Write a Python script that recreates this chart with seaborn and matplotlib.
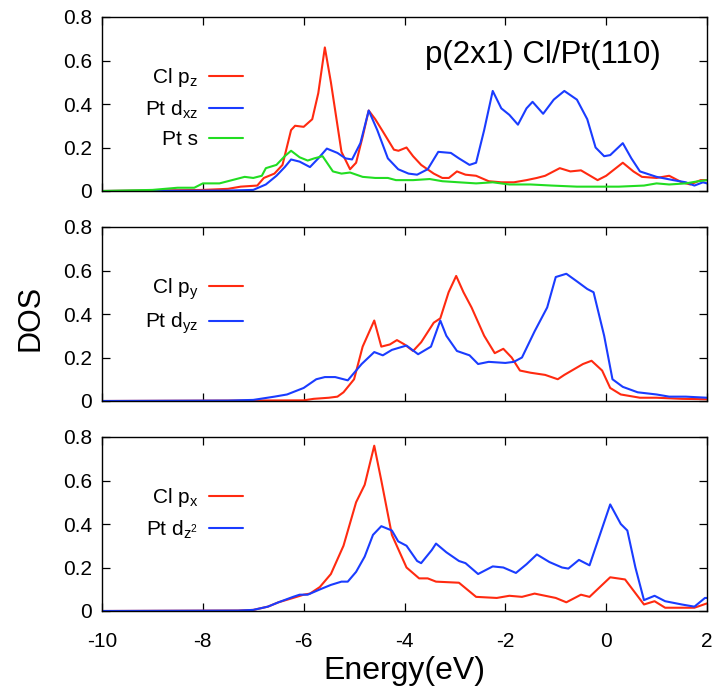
import numpy as np
import pandas as pd
import matplotlib
matplotlib.use("Agg")
import matplotlib.pyplot as plt
import seaborn as sns
from matplotlib.ticker import FuncFormatter

# ---------------- data ----------------
# Panel 1
e_clpz = [-10, -8, -7.5, -7.25, -6.92, -6.79, -6.58, -6.42, -6.25, -6.17, -6.0, -5.83, -5.71, -5.58,
          -5.46, -5.25, -5.08, -4.96, -4.83, -4.71, -4.58, -4.42, -4.21, -4.12, -3.96, -3.83, -3.67,
          -3.42, -3.25, -3.12, -2.96, -2.79, -2.58, -2.33, -2.08, -1.83, -1.58, -1.375, -1.21, -0.92,
          -0.71, -0.5, -0.17, 0.0, 0.33, 0.54, 0.71, 1.0, 1.25, 1.5, 1.67, 1.875, 2.0]
v_clpz = [0, 0.005, 0.01, 0.02, 0.025, 0.06, 0.08, 0.12, 0.28, 0.3, 0.295, 0.33, 0.45, 0.66,
          0.5, 0.18, 0.1, 0.13, 0.25, 0.37, 0.33, 0.27, 0.19, 0.185, 0.2, 0.16, 0.12,
          0.08, 0.06, 0.06, 0.09, 0.075, 0.07, 0.045, 0.04, 0.04, 0.05, 0.06, 0.07, 0.105,
          0.09, 0.095, 0.05, 0.07, 0.13, 0.09, 0.065, 0.06, 0.07, 0.04, 0.03, 0.05, 0.05]

e_ptdxz = [-10, -7.5, -7.0, -6.75, -6.54, -6.375, -6.25, -6.08, -5.875, -5.71, -5.54, -5.33, -5.17,
           -5.04, -4.875, -4.71, -4.54, -4.33, -4.125, -3.92, -3.75, -3.54, -3.33, -3.08, -2.92,
           -2.71, -2.58, -2.42, -2.25, -2.08, -1.92, -1.75, -1.58, -1.46, -1.25, -1.04, -0.83,
           -0.58, -0.375, -0.21, -0.04, 0.08, 0.33, 0.5, 0.67, 1.0, 1.33, 1.58, 1.75, 1.92, 2.0]
v_ptdxz = [0, 0.002, 0.005, 0.03, 0.07, 0.11, 0.145, 0.135, 0.11, 0.15, 0.195, 0.175, 0.15,
           0.145, 0.22, 0.37, 0.28, 0.15, 0.1, 0.08, 0.075, 0.1, 0.18, 0.175, 0.15,
           0.12, 0.13, 0.28, 0.46, 0.38, 0.35, 0.305, 0.38, 0.41, 0.355, 0.42, 0.46,
           0.42, 0.33, 0.2, 0.16, 0.165, 0.22, 0.15, 0.09, 0.065, 0.05, 0.04, 0.025, 0.04, 0.035]

e_pts = [-10, -9, -8.5, -8.17, -8.0, -7.67, -7.42, -7.17, -7.0, -6.83, -6.75, -6.54, -6.375, -6.25,
         -6.08, -5.92, -5.79, -5.625, -5.42, -5.25, -5.08, -4.83, -4.58, -4.33, -4.17, -3.83, -3.5,
         -3.25, -2.92, -2.58, -2.25, -1.92, -1.5, -1.08, -0.58, -0.08, 0.25, 0.75, 1.0, 1.25, 1.58,
         1.83, 2.0]
v_pts = [0, 0.005, 0.015, 0.015, 0.035, 0.035, 0.05, 0.065, 0.06, 0.07, 0.105, 0.12, 0.16, 0.185,
         0.155, 0.14, 0.15, 0.16, 0.09, 0.08, 0.085, 0.065, 0.06, 0.06, 0.05, 0.05, 0.055,
         0.045, 0.04, 0.035, 0.04, 0.03, 0.03, 0.025, 0.02, 0.02, 0.02, 0.025, 0.035, 0.03, 0.035,
         0.045, 0.05]

# Panel 2
e_clpy = [-10, -6.0, -5.8, -5.5, -5.33, -5.21, -5.0, -4.83, -4.6, -4.46, -4.29, -4.15, -4.0, -3.83,
          -3.67, -3.42, -3.29, -3.125, -2.975, -2.83, -2.67, -2.42, -2.21, -2.04, -1.875, -1.71,
          -1.5, -1.21, -0.96, -0.83, -0.46, -0.29, -0.08, 0.08, 0.29, 0.67, 1.0, 1.5, 2.0]
v_clpy = [0, 0.003, 0.01, 0.015, 0.02, 0.04, 0.1, 0.25, 0.37, 0.25, 0.26, 0.28, 0.26, 0.23,
          0.27, 0.36, 0.38, 0.5, 0.575, 0.5, 0.43, 0.3, 0.22, 0.24, 0.2, 0.14,
          0.13, 0.12, 0.1, 0.12, 0.17, 0.185, 0.14, 0.06, 0.03, 0.015, 0.015, 0.01, 0.008]

e_ptdyz = [-10, -7.5, -7.0, -6.58, -6.33, -6.0, -5.75, -5.58, -5.375, -5.125, -4.85, -4.6, -4.43,
           -4.25, -3.96, -3.73, -3.475, -3.29, -3.17, -2.96, -2.71, -2.54, -2.33, -2.0, -1.83,
           -1.67, -1.42, -1.17, -1.0, -0.79, -0.58, -0.375, -0.25, -0.04, 0.125, 0.33, 0.625,
           1.0, 1.25, 1.58, 2.0]
v_ptdyz = [0, 0.002, 0.005, 0.02, 0.03, 0.06, 0.1, 0.11, 0.11, 0.095, 0.17, 0.225, 0.21,
           0.235, 0.255, 0.215, 0.25, 0.37, 0.3, 0.23, 0.21, 0.17, 0.18, 0.175, 0.18,
           0.2, 0.32, 0.43, 0.57, 0.585, 0.55, 0.515, 0.5, 0.3, 0.1, 0.065, 0.04,
           0.03, 0.02, 0.02, 0.015]

# Panel 3
e_clpx = [-10, -7.3, -7.0, -6.71, -6.5, -6.21, -6.0, -5.875, -5.68, -5.46, -5.21, -4.96, -4.79,
          -4.6, -4.46, -4.25, -3.96, -3.71, -3.54, -3.375, -2.92, -2.58, -2.17, -1.92, -1.67,
          -1.42, -1.0, -0.79, -0.5, -0.33, 0.08, 0.375, 0.75, 0.96, 1.17, 1.75, 2.0]
v_clpx = [0, 0.002, 0.005, 0.02, 0.04, 0.06, 0.075, 0.08, 0.11, 0.17, 0.3, 0.5, 0.58,
          0.76, 0.6, 0.35, 0.2, 0.15, 0.15, 0.135, 0.13, 0.065, 0.06, 0.07, 0.065,
          0.08, 0.06, 0.04, 0.075, 0.065, 0.155, 0.145, 0.03, 0.045, 0.015, 0.015, 0.035]

e_ptdz2 = [-10, -7.3, -7.0, -6.71, -6.5, -6.21, -6.08, -5.92, -5.67, -5.46, -5.25, -5.125, -4.96,
           -4.79, -4.625, -4.46, -4.25, -4.125, -3.96, -3.75, -3.67, -3.46, -3.375, -3.17, -2.92,
           -2.79, -2.54, -2.25, -2.04, -1.79, -1.58, -1.375, -1.125, -0.875, -0.75, -0.54, -0.33,
           -0.125, 0.08, 0.29, 0.42, 0.58, 0.75, 0.96, 1.17, 1.5, 1.75, 1.96, 2.0]
v_ptdz2 = [0, 0.002, 0.005, 0.02, 0.04, 0.065, 0.075, 0.075, 0.1, 0.12, 0.135, 0.135, 0.18,
           0.25, 0.35, 0.39, 0.37, 0.32, 0.3, 0.23, 0.22, 0.28, 0.31, 0.27, 0.23,
           0.22, 0.17, 0.205, 0.2, 0.175, 0.215, 0.26, 0.225, 0.2, 0.195, 0.235, 0.21,
           0.35, 0.49, 0.4, 0.37, 0.2, 0.05, 0.07, 0.045, 0.03, 0.02, 0.06, 0.06]

x_ticks = [-10, -8, -6, -4, -2, 0, 2]
y_ticks = [0, 0.2, 0.4, 0.6, 0.8]

panels = [
    [("Cl p$_{\\rm z}$", e_clpz, v_clpz, "red"),
     ("Pt d$_{\\rm xz}$", e_ptdxz, v_ptdxz, "blue"),
     ("Pt s", e_pts, v_pts, "green")],
    [("Cl p$_{\\rm y}$", e_clpy, v_clpy, "red"),
     ("Pt d$_{\\rm yz}$", e_ptdyz, v_ptdyz, "blue")],
    [("Cl p$_{\\rm x}$", e_clpx, v_clpx, "red"),
     ("Pt d$_{\\rm z^2}$", e_ptdz2, v_ptdz2, "blue")],
]
colors = {"red": "#ff2a10", "blue": "#1a3cff", "green": "#22dd22"}

# ---------------- style ----------------
sns.set_style("ticks")
plt.rcParams["font.family"] = ["Liberation Sans", "DejaVu Sans"]
plt.rcParams["mathtext.fontset"] = "custom"
plt.rcParams["mathtext.rm"] = "Liberation Sans"
plt.rcParams["mathtext.it"] = "Liberation Sans:italic"
plt.rcParams["axes.unicode_minus"] = False
plt.rcParams["text.color"] = "black"
plt.rcParams["axes.labelcolor"] = "black"
plt.rcParams["xtick.color"] = "black"
plt.rcParams["ytick.color"] = "black"

W, H = 715, 695
fig = plt.figure(figsize=(W / 100, H / 100), dpi=100)

left_px, right_px = 102, 707
tops = [17, 227, 437]
ph = 174

for i, (curves, top) in enumerate(zip(panels, tops)):
    ax = fig.add_axes([left_px / W, 1 - (top + ph) / H, (right_px - left_px) / W, ph / H])
    for label, e, v, c in curves:
        df = pd.DataFrame({"E": e, "DOS": v})
        sns.lineplot(data=df, x="E", y="DOS", ax=ax, color=colors[c], lw=1.5,
                     label=label, sort=False, estimator=None)
    ax.set_xlim(-10, 2)
    ax.set_ylim(0, 0.8)
    ax.set_xticks(x_ticks)
    ax.set_yticks(y_ticks)
    ax.yaxis.set_major_formatter(FuncFormatter(lambda v, p: "0" if abs(v) < 1e-9 else f"{v:.1f}"))
    ax.tick_params(direction="in", length=6, width=0.9, top=True, right=True,
                   labelsize=15, colors="black", pad=7)
    ax.tick_params(axis="x", pad=15)
    for s in ax.spines.values():
        s.set_visible(True)
        s.set_linewidth(1.0)
        s.set_color("black")
    ax.set_xlabel("")
    ax.set_ylabel("")
    if i < 2:
        ax.set_xticklabels([])
    leg = ax.legend(loc="upper right", bbox_to_anchor=((243 - left_px) / (right_px - left_px), 1 - 49 / ph),
                    frameon=False, markerfirst=False, fontsize=15, handlelength=1.65,
                    handletextpad=0.5, labelspacing=0.45, borderpad=0, borderaxespad=0)
    for t in leg.get_texts():
        t.set_ha("right")
        t.set_color("black")
    for ln in leg.get_lines():
        ln.set_linewidth(1.5)

fig.text(425 / W, 1 - 63 / H, "p(2x1) Cl/Pt(110)", fontsize=22.5, ha="left", va="baseline")
fig.text(31 / W, 1 - 318 / H, "DOS", fontsize=22, rotation=90, ha="center", va="center")
fig.text(((left_px + right_px) / 2) / W, 1 - 671 / H, "Energy(eV)", fontsize=23, ha="center", va="center")

fig.savefig("out.png", dpi=100)
